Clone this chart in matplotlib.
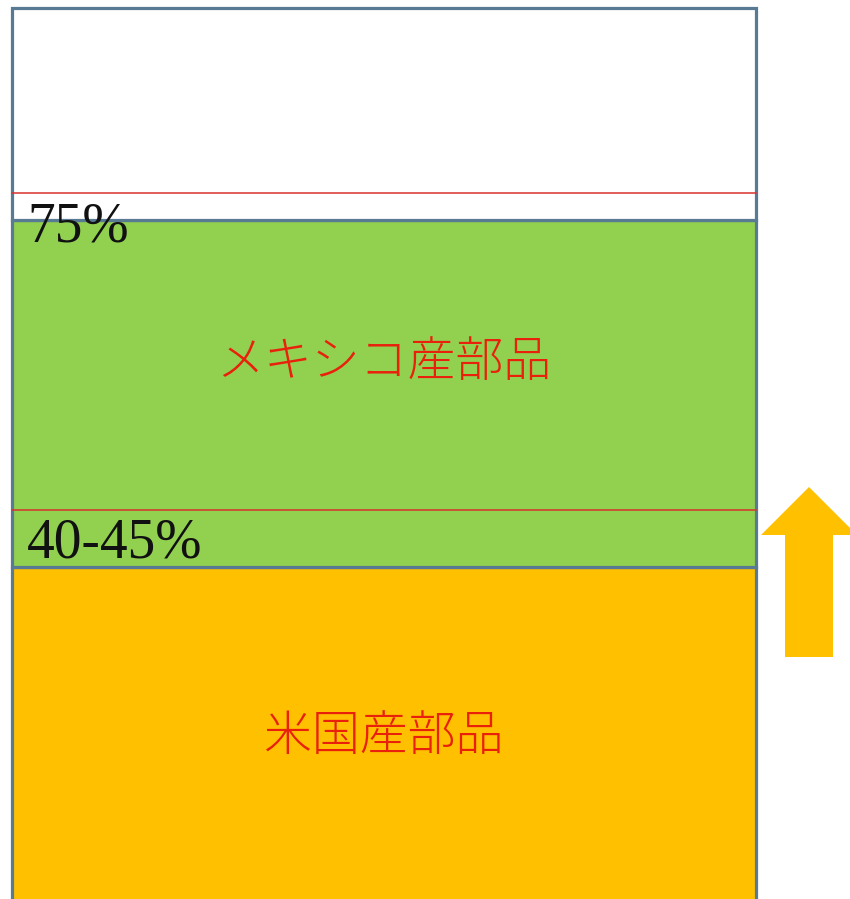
import matplotlib.pyplot as plt
from matplotlib.patches import FancyArrow

plt.rcParams['font.family'] = ['Noto Sans CJK JP', 'DejaVu Sans']

# stacked segments, bottom to top (schematic height units)
segment_names = ["米国産部品", "メキシコ産部品", ""]
segment_heights = [342, 347, 212]
segment_colors = ["#ffc000", "#92d050", "#ffffff"]
base_level = -10

# content thresholds (red lines) and their labels
threshold_levels = [389, 706]
threshold_labels = ["40-45%", "75%"]

# upward arrow beside the bar
arrow_from = 242
arrow_to = 412


def main():
    fig = plt.figure(figsize=(8.5, 8.99), dpi=100)
    ax = fig.add_axes([0, 0, 1, 1])
    ax.set_xlim(0, 850)
    ax.set_ylim(0, 899)
    ax.axis("off")

    bar_x, bar_w = 384, 744
    bottom = base_level
    for name, h, c in zip(segment_names, segment_heights, segment_colors):
        top = bottom + h
        ax.bar(bar_x, h, width=bar_w, bottom=bottom, color=c,
               edgecolor="#587a93", linewidth=2.3, zorder=2)
        if name:
            # centre the name in the part above any threshold inside the segment
            inner = [t for t in threshold_levels if bottom < t < top]
            low = max(inner) if inner else bottom
            ax.text(bar_x, (low + top) / 2 + 2, name,
                    ha="center", va="center", fontsize=34.5, color="#e8200c",
                    fontweight="light", zorder=5)
        bottom = top

    for level, label in zip(threshold_levels, threshold_labels):
        ax.plot([bar_x - bar_w / 2, bar_x + bar_w / 2], [level, level],
                color="#d8322e", linewidth=1.1, zorder=3)
        ax.text(27, level - 48, label, ha="left", va="baseline",
                fontsize=40, color="#111111", family="Liberation Serif",
                zorder=6)

    arrow = FancyArrow(809, arrow_from, 0, arrow_to - arrow_from, width=48,
                       head_width=96, head_length=48,
                       length_includes_head=True, color="#ffc000",
                       linewidth=0, zorder=4)
    ax.add_patch(arrow)

    fig.savefig("out.png", dpi=100)


if __name__ == "__main__":
    main()
